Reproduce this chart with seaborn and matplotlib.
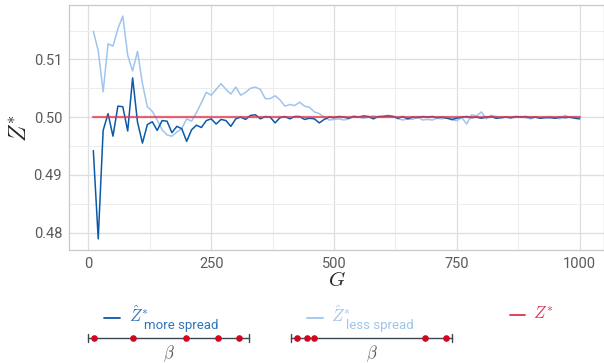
import numpy as np
import pandas as pd
import seaborn as sns
import matplotlib.pyplot as plt
from matplotlib.ticker import MultipleLocator

# number of groups G
G = list(range(10, 1001, 10))

# estimate of Z* when beta values are more spread out
z_more = [0.4942, 0.4789, 0.4977, 0.5006, 0.4967, 0.5019, 0.5018, 0.4976, 0.5068, 0.4991,
          0.4955, 0.4987, 0.4992, 0.4977, 0.4994, 0.4993, 0.4973, 0.4984, 0.4980, 0.4958,
          0.4978, 0.4986, 0.4982, 0.4994, 0.4997, 0.4988, 0.4996, 0.4994, 0.4984, 0.4997,
          0.5000, 0.4996, 0.5003, 0.5004, 0.4997, 0.5001, 0.5000, 0.4990, 0.4999, 0.5001,
          0.4997, 0.5001, 0.5001, 0.4996, 0.4998, 0.4997, 0.4990, 0.4996, 0.5000, 0.4999,
          0.5001, 0.5000, 0.4998, 0.5001, 0.5000, 0.5002, 0.5001, 0.4997, 0.5001, 0.5001,
          0.5002, 0.5001, 0.4998, 0.5001, 0.4997, 0.5000, 0.4999, 0.5001, 0.5000, 0.5001,
          0.4999, 0.5000, 0.4998, 0.4996, 0.4998, 0.5000, 0.5001, 0.4999, 0.5000, 0.4998,
          0.5000, 0.5001, 0.4998, 0.4999, 0.5000, 0.4999, 0.5001, 0.5000, 0.5001, 0.4999,
          0.5000, 0.4998, 0.4999, 0.4999, 0.4998, 0.5000, 0.4999, 0.5000, 0.4998, 0.4997]

# estimate of Z* when beta values are less spread out
z_less = [0.5149, 0.5115, 0.5044, 0.5127, 0.5123, 0.5153, 0.5175, 0.5107, 0.5080, 0.5114,
          0.5058, 0.5018, 0.5010, 0.4995, 0.4978, 0.4969, 0.4967, 0.4974, 0.4980, 0.4997,
          0.4993, 0.5008, 0.5025, 0.5043, 0.5038, 0.5048, 0.5058, 0.5048, 0.5040, 0.5052,
          0.5038, 0.5043, 0.5050, 0.5052, 0.5048, 0.5032, 0.5032, 0.5037, 0.5030, 0.5019,
          0.5022, 0.5020, 0.5026, 0.5019, 0.5017, 0.5009, 0.5006, 0.5000, 0.4995, 0.4996,
          0.4997, 0.4995, 0.4997, 0.5002, 0.5000, 0.4998, 0.5000, 0.5002, 0.5000, 0.5002,
          0.5003, 0.5002, 0.4997, 0.4995, 0.4997, 0.4996, 0.5001, 0.4995, 0.4996, 0.4995,
          0.4998, 0.4997, 0.5000, 0.4995, 0.4994, 0.4999, 0.4988, 0.5004, 0.5002, 0.5009,
          0.4997, 0.5003, 0.5001, 0.4999, 0.5000, 0.4998, 0.5000, 0.5001, 0.4999, 0.4997,
          0.5000, 0.4998, 0.5000, 0.5001, 0.4999, 0.4997, 0.5003, 0.4999, 0.5001, 0.5000]

# true value
z_true = [0.5] * len(G)

# beta values shown in the legend keys (position on a 0-1 line)
beta_more = [0.04, 0.28, 0.61, 0.81, 0.94]
beta_less = [0.035, 0.10, 0.145, 0.83, 0.96]

dark_blue = '#0b5aa8'
light_blue = '#9fc5ec'
red = '#e2334f'

sns.set_theme(style='whitegrid')
plt.rcParams['font.family'] = ['Roboto', 'DejaVu Sans']
plt.rcParams['mathtext.fontset'] = 'cm'

df = pd.DataFrame({
    'G': G * 3,
    'Z': z_more + z_less + z_true,
    'series': ['more'] * len(G) + ['less'] * len(G) + ['true'] * len(G),
})

fig = plt.figure(figsize=(6.04, 3.63), dpi=100)
ax = fig.add_axes([69 / 604, 113 / 363, 535 / 604, 245 / 363])

sns.lineplot(data=df[df.series == 'less'], x='G', y='Z', color=light_blue, lw=1.1, ax=ax)
sns.lineplot(data=df[df.series == 'more'], x='G', y='Z', color=dark_blue, lw=1.1, ax=ax)
sns.lineplot(data=df[df.series == 'true'], x='G', y='Z', color=red, lw=1.6, alpha=0.75, ax=ax)

ax.xaxis.set_major_locator(MultipleLocator(250))
ax.xaxis.set_minor_locator(MultipleLocator(125))
ax.yaxis.set_major_locator(MultipleLocator(0.01))
ax.yaxis.set_minor_locator(MultipleLocator(0.005))
ax.yaxis.set_major_formatter(lambda v, p: f'{v:.2f}')
ax.set_xlim(-39.5, 1049.5)
ax.set_ylim(0.47697, 0.51943)
ax.grid(which='major', color='#dedede', lw=0.9)
ax.grid(which='minor', color='#ececec', lw=0.7)
for s in ax.spines.values():
    s.set_color('#c8c8c8')
    s.set_linewidth(0.9)
ax.tick_params(axis='both', which='major', length=3, color='#c8c8c8', labelsize=10.5,
               labelcolor='#5a5a5a', pad=2)
ax.tick_params(axis='both', which='minor', length=0)
ax.set_xlabel('$G$', fontsize=15, labelpad=0)
ax.set_ylabel('$Z^{*}$', fontsize=17, labelpad=2)

# legend drawn in pixel coordinates
lax = fig.add_axes([0, 0, 1, 1])
lax.set_xlim(0, 604)
lax.set_ylim(363, 0)
lax.axis('off')


def beta_key(x0, x1, y, betas):
    lax.plot([x0, x1], [y, y], color='#3c4850', lw=1.0)
    lax.plot([x0, x0], [y - 4, y + 4], color='#3c4850', lw=1.0)
    lax.plot([x1, x1], [y - 4, y + 4], color='#3c4850', lw=1.0)
    xs = [x0 + b * (x1 - x0) for b in betas]
    lax.scatter(xs, [y] * len(xs), s=14, color='#d0061f', zorder=3)
    lax.text((x0 + x1) / 2, y + 16, r'$\beta$', fontsize=12, color='#555555',
             ha='center', va='center')


lax.plot([104, 120], [318, 318], color=dark_blue, lw=1.3)
lax.text(129, 322, r'$\hat{Z}^{*}$', fontsize=12, color='#2f74ba', va='baseline')
lax.text(144, 329, 'more spread', fontsize=9.5, color='#2f74ba', va='baseline')
beta_key(88, 249, 338, beta_more)

lax.plot([307, 323], [318, 318], color=light_blue, lw=1.3)
lax.text(331, 322, r'$\hat{Z}^{*}$', fontsize=12, color=light_blue, va='baseline')
lax.text(346, 329, 'less spread', fontsize=9.5, color=light_blue, va='baseline')
beta_key(291, 452, 338, beta_less)

lax.plot([510, 525], [315, 315], color=red, lw=1.3)
lax.text(533, 319, r'$Z^{*}$', fontsize=12, color=red, va='baseline')

fig.savefig('out.png', dpi=100)
